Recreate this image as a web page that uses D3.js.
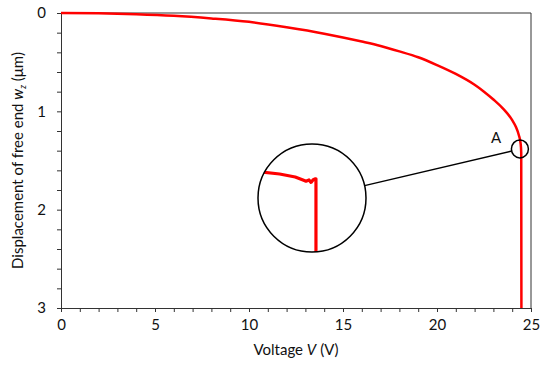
<!DOCTYPE html>
<html>
<head>
<meta charset="utf-8">
<script src="https://cdn.jsdelivr.net/npm/d3@7"></script>
<style>
  body { margin: 0; background: #fff; }
  text { font-family: Lato, "Open Sans", sans-serif; fill: #111; }
</style>
</head>
<body>
<script>
// curve: voltage (V) vs displacement (um)
const voltage = [0, 2, 4, 6, 8, 10, 12, 14, 16, 17, 18, 19, 20, 21, 22, 22.5, 23, 23.5, 24, 24.2, 24.35, 24.45, 24.48, 24.49]
const displacement = [0, 0.003, 0.012, 0.028, 0.055, 0.09, 0.145, 0.21, 0.29, 0.335, 0.39, 0.45, 0.53, 0.62, 0.73, 0.80, 0.88, 0.97, 1.09, 1.16, 1.24, 1.33, 1.42, 3]

// zoomed detail near point A (shown in the big circle)
const insetVoltage = [24.0, 24.18, 24.31, 24.375, 24.40, 24.425, 24.442, 24.458, 24.475, 24.483, 24.483]
const insetDisp = [1.336, 1.340, 1.345, 1.350, 1.352, 1.350, 1.354, 1.350, 1.348, 1.348, 1.50]

const xTicks = [0, 5, 10, 15, 20, 25]
const yTicks = [0, 1, 2, 3]
const pointA = { v: 24.41, w: 1.383, label: 'A' }

const width = 550
const height = 368
const margin = { top: 13, right: 19, bottom: 60, left: 61 }
const innerW = width - margin.left - margin.right
const innerH = height - margin.top - margin.bottom

const svg = d3.select('body').append('svg')
  .attr('width', width)
  .attr('height', height)

const g = svg.append('g')
  .attr('transform', `translate(${margin.left},${margin.top})`)

const x = d3.scaleLinear().domain([0, 25]).range([0, innerW])
// y grows downwards: 0 at the top
const y = d3.scaleLinear().domain([0, 3]).range([0, innerH])

// frame (top + right)
g.append('path')
  .attr('d', `M0,0H${innerW}V${innerH}`)
  .attr('fill', 'none')
  .attr('stroke', '#333')
  .attr('stroke-width', 1)

// minor ticks
const xMinor = d3.axisBottom(x).tickValues(d3.range(0, 25.01, 1)).tickSize(4).tickFormat('')
const yMinor = d3.axisLeft(y).tickValues(d3.range(0, 3.01, 0.2)).tickSize(4).tickFormat('')

g.append('g').attr('transform', `translate(0,${innerH})`).call(xMinor)
g.append('g').attr('transform', `translate(0,${innerH})`)
  .call(d3.axisBottom(x).tickValues(xTicks).tickSize(0).tickPadding(11).tickFormat(d3.format('d')))
  .call(s => s.select('.domain').remove())

g.append('g').call(yMinor)
g.append('g')
  .call(d3.axisLeft(y).tickValues(yTicks).tickSize(0).tickPadding(15).tickFormat(d3.format('d')))
  .call(s => s.select('.domain').remove())

g.selectAll('.domain, .tick line').attr('stroke', '#333')
g.selectAll('.tick text').attr('font-size', 15).attr('fill', '#111')
  .style('font-family', 'Lato, sans-serif')

// main curve
const pts = voltage.map((v, i) => [v, displacement[i]])
const line = d3.line().x(d => x(d[0])).y(d => y(d[1])).curve(d3.curveMonotoneX)
g.append('path')
  .datum(pts)
  .attr('d', line)
  .attr('fill', 'none')
  .attr('stroke', '#ff0000')
  .attr('stroke-width', 2.5)

// circle A
const ax = x(pointA.v), ay = y(pointA.w)
const rA = 8.5
g.append('ellipse')
  .attr('cx', ax).attr('cy', ay).attr('rx', rA).attr('ry', 9)
  .attr('fill', 'none').attr('stroke', '#000').attr('stroke-width', 1.5)
g.append('text')
  .attr('x', ax - 29).attr('y', ay - 6)
  .attr('font-size', 15)
  .text(pointA.label)

// big magnified circle
const cx = 312 - margin.left, cy = 198 - margin.top, R = 54
const xi = d3.scaleLinear().domain([24.0, 24.9]).range([cx - R, cx + R])
const yi = d3.scaleLinear().domain([1.29, 1.47]).range([cy - R, cy + R])

// connector from big circle to A
const ang = Math.atan2(ay - cy, ax - cx)
g.append('line')
  .attr('x1', cx + R * Math.cos(ang)).attr('y1', cy + R * Math.sin(ang))
  .attr('x2', ax - rA * Math.cos(ang)).attr('y2', ay - 9 * Math.sin(ang))
  .attr('stroke', '#000').attr('stroke-width', 1.5)

svg.append('clipPath').attr('id', 'lens')
  .append('circle').attr('cx', cx).attr('cy', cy).attr('r', R)

const inset = insetVoltage.map((v, i) => [v, insetDisp[i]])
g.append('path')
  .datum(inset)
  .attr('clip-path', 'url(#lens)')
  .attr('d', d3.line().x(d => xi(d[0])).y(d => yi(d[1])))
  .attr('fill', 'none')
  .attr('stroke', '#ff0000')
  .attr('stroke-width', 3.2)
  .attr('stroke-linejoin', 'round')

g.append('circle')
  .attr('cx', cx).attr('cy', cy).attr('r', R)
  .attr('fill', 'none').attr('stroke', '#000').attr('stroke-width', 1.5)

// axis titles
const xt = svg.append('text')
  .attr('x', margin.left + innerW / 2).attr('y', 355)
  .attr('text-anchor', 'middle').attr('font-size', 15)
xt.append('tspan').text('Voltage ')
xt.append('tspan').attr('font-style', 'italic').text('V')
xt.append('tspan').text(' (V)')

const yt = svg.append('text')
  .attr('transform', `translate(23,${margin.top + innerH / 2}) rotate(-90)`)
  .attr('text-anchor', 'middle').attr('font-size', 15)
yt.append('tspan').text('Displacement of free end ')
yt.append('tspan').attr('font-style', 'italic').text('w')
yt.append('tspan').attr('font-style', 'italic').attr('font-size', 9).attr('dy', 3).text('z')
yt.append('tspan').attr('dy', -3).text(' (μm)')
</script>
</body>
</html>
